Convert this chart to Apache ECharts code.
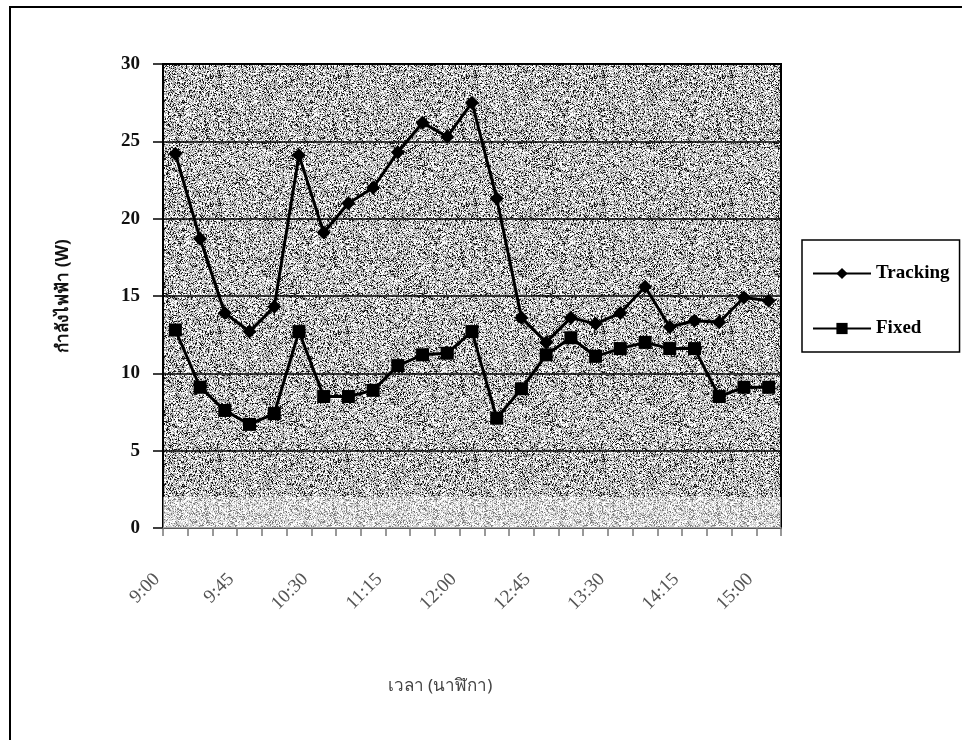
<!DOCTYPE html>
<html>
<head>
<meta charset="utf-8">
<script src="https://cdn.jsdelivr.net/npm/echarts@6/dist/echarts.min.js"></script>
<style>
html,body{margin:0;padding:0;background:#fff;}
#chart{width:962px;height:740px;}
</style>
</head>
<body>
<div id="chart"></div>
<script>
const categories = ['9:00','9:15','9:30','9:45','10:00','10:15','10:30','10:45','11:00','11:15','11:30','11:45','12:00','12:15','12:30','12:45','13:00','13:15','13:30','13:45','14:00','14:15','14:30','14:45','15:00'];
const tracking = [24.2,18.7,13.9,12.7,14.3,24.1,19.1,21.0,22.0,24.3,26.2,25.3,27.5,21.3,13.6,12.0,13.6,13.2,13.9,15.6,13.0,13.4,13.3,14.9,14.7];
const fixed = [12.8,9.1,7.6,6.7,7.4,12.7,8.5,8.5,8.9,10.5,11.2,11.3,12.7,7.1,9.0,11.2,12.3,11.1,11.6,12.0,11.6,11.6,8.5,9.1,9.1];
const yTicks = {min:0, max:30, interval:5};
const lightBand = [0, 2];
const seriesNames = ['Tracking','Fixed'];
const yTitle = 'กำลังไฟฟ้า (W)';
const xTitle = 'เวลา (นาฬิกา)';

// decorative speckled texture for the plot background (style only)
function makeTexture(){
  const c = document.createElement('canvas');
  c.width = 128; c.height = 128;
  const ctx = c.getContext('2d');
  const img = ctx.createImageData(128,128);
  let s = 12345;
  for(let i=0;i<128*128;i++){
    s = (s*1103515245 + 12345) & 0x7fffffff;
    const r = (s>>8) % 100;
    let v;
    if(r<19) v = 25; else if(r<56) v = 250; else v = 170;
    img.data[i*4]=v; img.data[i*4+1]=v; img.data[i*4+2]=v; img.data[i*4+3]=255;
  }
  ctx.putImageData(img,0,0);
  return c;
}

const chart = echarts.init(document.getElementById('chart'), null, {renderer:'canvas'});
const serif = '"Liberation Serif","DejaVu Serif",serif';
chart.setOption({
  animation:false,
  backgroundColor:'#ffffff',
  grid:{left:163, top:64, right:181, bottom:212, show:true,
        backgroundColor:{image:makeTexture(), repeat:'repeat'},
        borderColor:'#000', borderWidth:2},
  legend:{
    orient:'vertical', left:802, top:240,
    data:seriesNames,
    itemWidth:58, itemHeight:14, itemGap:36,
    padding:[24,10,14,10],
    borderColor:'#000', borderWidth:1.5, backgroundColor:'#fff',
    textStyle:{fontFamily:serif, fontSize:19, fontWeight:'bold', color:'#000'}
  },
  xAxis:{
    type:'category', data:categories, boundaryGap:true,
    name:xTitle, nameLocation:'middle', nameGap:150,
    nameTextStyle:{fontFamily:'"Noto Sans","DejaVu Sans",sans-serif', fontSize:17, color:'#444', padding:[0,64,0,0]},
    axisLine:{lineStyle:{color:'#555', width:2}},
    axisTick:{show:true, alignWithLabel:false, interval:0, length:8, lineStyle:{color:'#777', width:1.5}},
    axisLabel:{interval:2, rotate:45, margin:30, padding:[0,26,0,0], fontFamily:serif, fontSize:19, color:'#555'}
  },
  yAxis:{
    type:'value', min:yTicks.min, max:yTicks.max, interval:yTicks.interval,
    name:yTitle, nameLocation:'middle', nameGap:91, nameRotate:90,
    nameTextStyle:{fontFamily:'"Noto Sans","DejaVu Sans",sans-serif', fontSize:17, fontWeight:'bold', color:'#111', padding:[0,0,0,0]},
    axisLine:{show:true, lineStyle:{color:'#000', width:2}},
    axisTick:{show:true, length:10, lineStyle:{color:'#000', width:1.5}},
    axisLabel:{margin:23, fontFamily:serif, fontSize:19, fontWeight:'bold', color:'#111'},
    splitLine:{show:true, lineStyle:{color:'#000', width:1.5}}
  },
  series:[
    {name:seriesNames[0], type:'line', data:tracking, symbol:'diamond', symbolSize:14,
     lineStyle:{color:'#000', width:3}, itemStyle:{color:'#000'},
     markArea:{silent:true, itemStyle:{color:'rgba(255,255,255,0.45)'}, data:[[{yAxis:lightBand[0]},{yAxis:lightBand[1]}]]}},
    {name:seriesNames[1], type:'line', data:fixed, symbol:'rect', symbolSize:13,
     lineStyle:{color:'#000', width:3}, itemStyle:{color:'#000'}}
  ],
  graphic:[
    {type:'rect', shape:{x:10, y:7, width:960, height:740}, style:{fill:null, stroke:'#000', lineWidth:2}, silent:true}
  ]
});
</script>
</body>
</html>
